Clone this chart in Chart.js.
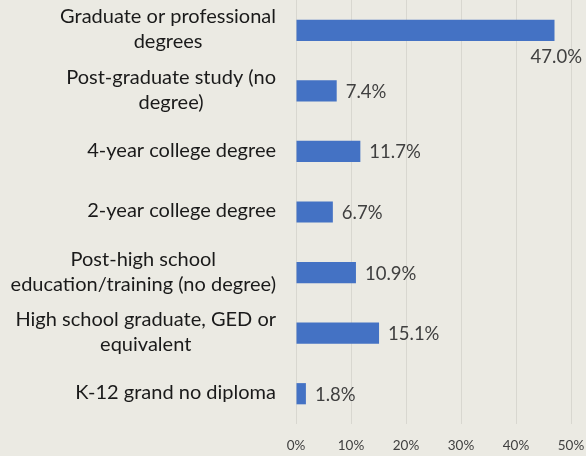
<!DOCTYPE html>
<html><head><meta charset="utf-8">
<script src="https://cdn.jsdelivr.net/npm/chart.js@4"></script>
<style>html,body{margin:0;padding:0;background:#ebeae3;}#wrap{width:586px;height:456px;}</style>
</head><body><div id="wrap"><canvas id="c" width="586" height="456"></canvas></div>
<script>
const categories = [
  ["Graduate or professional", "degrees"],
  ["Post-graduate study (no", "degree)"],
  ["4-year college degree"],
  ["2-year college degree"],
  ["Post-high school", "education/training (no degree)"],
  ["High school graduate, GED or", "equivalent"],
  ["K-12 grand no diploma"]
];
const values = [47.0, 7.4, 11.7, 6.7, 10.9, 15.1, 1.8];
const xTicks = [0, 10, 20, 30, 40, 50];

const FONT = "Lato, 'Liberation Sans', sans-serif";

const labelPlugin = {
  id: 'labels',
  afterDatasetsDraw(chart) {
    const ctx = chart.ctx;
    const meta = chart.getDatasetMeta(0);
    const area = chart.chartArea;
    ctx.save();
    ctx.font = "18.5px " + FONT;
    ctx.fillStyle = "#404040";
    ctx.textBaseline = "middle";
    meta.data.forEach((bar, i) => {
      const txt = values[i].toFixed(1) + "%";
      const w = ctx.measureText(txt).width;
      if (bar.x + 8 + w > chart.width) {
        ctx.textAlign = "right";
        ctx.fillText(txt, chart.width - 4, bar.y + 27);
      } else {
        ctx.textAlign = "left";
        ctx.fillText(txt, bar.x + 9, bar.y + 1);
      }
    });
    // category labels
    const ys = chart.scales.y;
    ctx.font = "20px " + FONT;
    ctx.fillStyle = "#1a1a1a";
    ctx.textAlign = "center";
    const right = area.left - 20;
    const lh = 25;
    categories.forEach((lines, i) => {
      const y = ys.getPixelForValue(i);
      let mw = 0;
      lines.forEach(l => { mw = Math.max(mw, ctx.measureText(l).width); });
      const cx = right - mw / 2;
      const y0 = y - (lines.length - 1) * lh / 2 - 1;
      lines.forEach((l, k) => ctx.fillText(l, cx, y0 + k * lh));
    });
    ctx.restore();
  }
};

new Chart(document.getElementById('c'), {
  type: 'bar',
  data: {
    labels: categories,
    datasets: [{
      data: values,
      backgroundColor: '#4472C4',
      borderWidth: 0,
      barPercentage: 0.7,
      categoryPercentage: 0.5
    }]
  },
  options: {
    indexAxis: 'y',
    responsive: false,
    animation: false,
    events: [],
    layout: { padding: { top: 0, right: 15, left: 0, bottom: 0 } },
    plugins: { legend: { display: false }, tooltip: { enabled: false } },
    scales: {
      x: {
        min: 0, max: 50,
        afterBuildTicks(s) { s.ticks = xTicks.map(v => ({ value: v })); },
        afterFit(s) { s.height = 32; s.paddingRight = 0; s.paddingLeft = 0; },
        grid: { color: '#d8d7d0', lineWidth: 1, drawTicks: false },
        border: { display: false },
        ticks: {
          padding: 14,
          color: '#404040',
          font: { family: FONT, size: 13.5 },
          callback: v => v + '%'
        }
      },
      y: {
        afterFit(s) { s.width = 296; s.paddingTop = 0; s.paddingBottom = 0; },
        grid: { display: false, drawTicks: false },
        border: { display: false },
        ticks: { display: false }
      }
    }
  },
  plugins: [labelPlugin]
});
</script></body></html>
